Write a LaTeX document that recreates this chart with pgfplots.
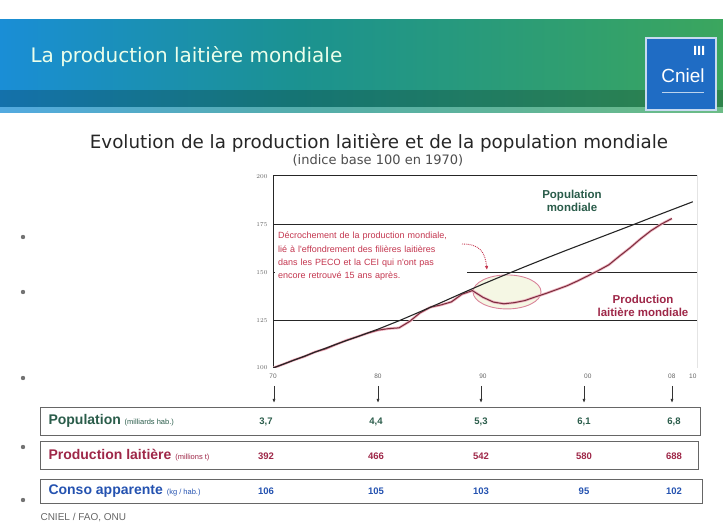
\documentclass[border=0pt]{standalone}
\usepackage{fontspec}
\setmainfont{DejaVu Sans}
\newfontfamily\lib{Liberation Sans}
\usepackage{pgfplots}
\usepackage{pgfplotstable}
\pgfplotsset{compat=1.18}
\usetikzlibrary{shapes.geometric,arrows.meta}

\definecolor{bannerblue}{HTML}{1A8ED6}
\definecolor{bannerteal}{HTML}{1B9290}
\definecolor{bannergreen}{HTML}{3BA65E}
\definecolor{logoblue}{HTML}{1F6CC4}
\definecolor{popgreen}{HTML}{2A5C4A}
\definecolor{prodred}{HTML}{9E2748}
\definecolor{prodline}{HTML}{7A2C3C}
\definecolor{prodglow}{HTML}{EDB3C0}
\definecolor{annotred}{HTML}{C4364F}
\definecolor{ellcol}{HTML}{D9849A}
\definecolor{ellfill}{HTML}{F5F7E4}
\definecolor{consoblue}{HTML}{2452B0}

% indice base 100 en 1970
\pgfplotstableread{
year idx
1970 100
1972 104.1
1974 108.3
1976 112.4
1978 116.3
1980 120.3
1982 124.7
1984 129.4
1986 134.2
1988 139.1
1990 143.9
1992 148.5
1994 153.0
1996 157.4
1998 161.7
2000 165.9
2002 170.1
2004 174.3
2006 178.6
2008 182.8
2010 187.0
}\population

\pgfplotstableread{
year idx
1970 100
1971 102.0
1972 104.2
1973 106.0
1974 108.4
1975 110.0
1976 112.3
1977 114.5
1978 116.3
1979 118.2
1980 119.8
1981 120.6
1982 121.0
1983 124.3
1984 128.8
1985 131.8
1986 133.0
1987 134.6
1988 138.6
1989 140.5
1990 137.0
1991 134.5
1992 133.6
1993 134.2
1994 135.3
1995 137.2
1996 139.0
1997 141.0
1998 143.0
1999 145.5
2000 148.2
2001 151.0
2002 154.0
2003 158.5
2004 162.8
2005 167.5
2006 171.8
2007 175.3
2008 178.2
}\production

\begin{document}
\begin{tikzpicture}[x=1pt,y=1pt]
\useasboundingbox (0,0) rectangle (723,-526);

% bandeau
\shade[left color=bannerblue, right color=bannerteal] (0,-20) rectangle (300,-113);
\shade[left color=bannerteal, right color=bannergreen] (300,-20) rectangle (723,-113);
\fill[black, opacity=0.2] (0,-90) rectangle (723,-107);
\fill[white, opacity=0.25] (0,-107) rectangle (723,-113);
\node[anchor=west, text=white!92!green, font=\fontsize{20}{22}\selectfont] at (27,-57) {La production laitière mondiale};
\fill[logoblue] (646,-38) rectangle (716,-110);
\draw[white!75!logoblue, line width=1.2pt] (646,-38) rectangle (716,-110);
\fill[white] (694,-46) rectangle (696,-55) (698,-46) rectangle (700,-55) (702,-46) rectangle (704,-55);
\node[text=white, font=\lib\fontsize{19}{19}\selectfont] at (683,-76) {Cniel};
\draw[white!70!logoblue, line width=0.6pt] (662,-92) -- (704,-92);

% titres
\node[font=\fontsize{18.3}{20}\selectfont, text=black!85] at (379,-143) {Evolution de la production laitière et de la population mondiale};
\node[font=\fontsize{13}{14}\selectfont, text=black!70] at (378,-160) {(indice base 100 en 1970)};

% puces
\foreach \yy in {-237,-292,-378,-447,-500}
  \fill[black!55] (23,\yy) circle (2.2);

\begin{axis}[
  at={(273pt,-368pt)}, anchor=south west,
  width=424pt, height=193pt, scale only axis,
  xmin=1970, xmax=2010.4, ymin=100, ymax=201,
  xtick={1970,1980,1990,2000,2008,2010},
  xticklabels={70,80,90,00,08,10},
  ytick={125,150,175}, extra y ticks={100,200},
  extra y tick style={grid=none},
  ymajorgrids, grid style={black!85, line width=0.7pt},
  axis line style={draw=none}, tick style={draw=none},
  tick label style={font=\lib\fontsize{6.5}{7}\selectfont, text=black!60},
  xticklabel style={yshift=-2pt},
  yticklabel style={xshift=-2pt},
]
\node[ellipse, draw=ellcol, fill=ellfill, line width=0.9pt,
      minimum width=68pt, minimum height=34pt] at (axis cs:1992.3,139.8) {};
\draw[black!85, line width=0.8pt] (rel axis cs:0,0) -- (rel axis cs:0,1)
  -- (rel axis cs:1,1) -- (rel axis cs:1,0);
\draw[black!45, densely dotted, line width=0.8pt] (rel axis cs:0,0) -- (rel axis cs:1,0);
\addplot[prodglow, line width=2.6pt, line join=round] table {\production};
\addplot[prodline, line width=1pt, line join=round] table {\production};
\addplot[black!85, line width=1.1pt] table {\population};
\end{axis}

% annotation
\node[fill=white, anchor=north west, inner sep=3pt, text width=186pt, align=left,
      text=annotred, font=\lib\fontsize{9}{13.2}\selectfont] at (275,-229)
  {Décrochement de la production mondiale,\\
   lié à l'effondrement des filières laitières\\
   dans les PECO et la CEI qui n'ont pas\\
   encore retrouvé 15 ans après.};
\draw[annotred, densely dotted, line width=0.9pt, -{Latex[length=4pt,width=3.5pt]}]
  (462,-244) .. controls (480,-244) and (485,-252) .. (487,-270);

\node[font=\lib\bfseries\fontsize{11.5}{13}\selectfont, text=popgreen, align=center] at (572,-201) {Population\\mondiale};
\node[font=\lib\bfseries\fontsize{11.5}{13}\selectfont, text=prodred, align=center] at (643,-306) {Production\\laitière mondiale};

% flèches vers le tableau
\foreach \xx in {274,378,481,584,672}
  \draw[black!80, line width=0.7pt, -{Latex[length=4pt,width=3pt]}] (\xx,-386) -- (\xx,-403);

% tableau
\draw[black!60, line width=0.8pt] (40,-407) rectangle (700,-435);
\draw[black!60, line width=0.8pt] (40,-441) rectangle (698,-469);
\draw[black!60, line width=0.8pt] (40,-479) rectangle (702,-503);

\node[anchor=west, text=popgreen] at (45,-421)
  {\lib\bfseries\fontsize{14}{14}\selectfont Population \mdseries\fontsize{7.5}{8}\selectfont(milliards hab.)};
\node[anchor=west, text=prodred] at (45,-455)
  {\lib\bfseries\fontsize{14}{14}\selectfont Production laitière \mdseries\fontsize{7.5}{8}\selectfont(millions t)};
\node[anchor=west, text=consoblue] at (45,-491)
  {\lib\bfseries\fontsize{14}{14}\selectfont Conso apparente \mdseries\fontsize{7.5}{8}\selectfont(kg / hab.)};

\foreach \xx/\v in {266/{3,7},376/{4,4},481/{5,3},584/{6,1},674/{6,8}}
  \node[text=popgreen, font=\lib\bfseries\fontsize{9.5}{10}\selectfont] at (\xx,-422) {\v};
\foreach \xx/\v in {266/392,376/466,481/542,584/580,674/688}
  \node[text=prodred, font=\lib\bfseries\fontsize{9.5}{10}\selectfont] at (\xx,-456) {\v};
\foreach \xx/\v in {266/106,376/105,481/103,584/95,674/102}
  \node[text=consoblue, font=\lib\bfseries\fontsize{9.5}{10}\selectfont] at (\xx,-491) {\v};

\node[anchor=west, text=black!60, font=\lib\fontsize{10}{10}\selectfont] at (37,-518) {CNIEL / FAO, ONU};
\end{tikzpicture}
\end{document}
